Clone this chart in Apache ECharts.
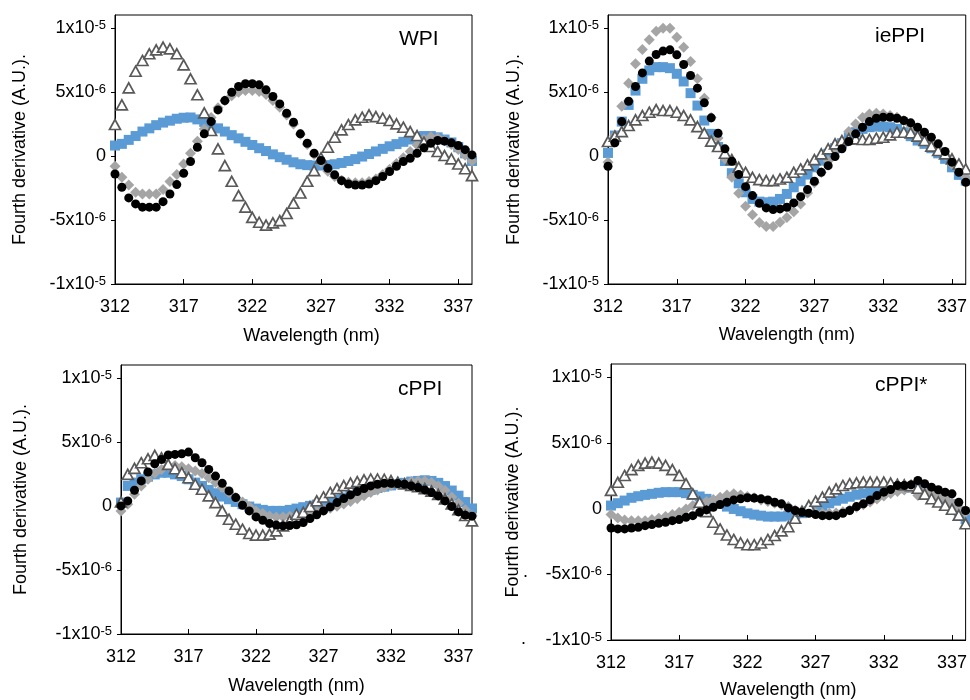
<!DOCTYPE html>
<html><head><meta charset="utf-8">
<script src="https://cdn.jsdelivr.net/npm/echarts@6/dist/echarts.min.js"></script>
<style>html,body{margin:0;padding:0;background:#fff}#c{width:970px;height:700px}</style>
</head><body><div id="c"></div>
<script>
// Wavelength (nm)
const wavelength = [312,312.5,313,313.5,314,314.5,315,315.5,316,316.5,317,317.5,318,318.5,319,319.5,320,320.5,321,321.5,322,322.5,323,323.5,324,324.5,325,325.5,326,326.5,327,327.5,328,328.5,329,329.5,330,330.5,331,331.5,332,332.5,333,333.5,334,334.5,335,335.5,336,336.5,337,337.5,338];
// Fourth derivative values in units of 1e-6 (A.U.)
const wpiBlue  = [0.81,0.94,1.25,1.55,1.9,2.15,2.4,2.6,2.75,2.9,2.98,3.0,2.85,2.65,2.42,2.15,1.9,1.62,1.37,1.1,0.85,0.6,0.38,0.12,-0.1,-0.3,-0.5,-0.65,-0.72,-0.75,-0.75,-0.72,-0.65,-0.55,-0.4,-0.25,-0.05,0.15,0.35,0.55,0.75,0.92,1.1,1.28,1.42,1.55,1.55,1.45,1.28,1.05,0.68,0.2,-0.4];
const wpiGray  = [-0.81,-1.67,-2.27,-2.84,-2.97,-2.97,-2.97,-2.63,-2.0,-1.46,-0.63,0.21,1.15,2.11,3.0,3.75,4.3,4.7,4.97,5.1,5.1,5.03,4.79,4.32,3.8,3.2,2.5,1.7,0.9,0.1,-0.5,-1.2,-1.6,-1.9,-2.05,-2.1,-2.1,-2.0,-1.8,-1.45,-1.05,-0.6,-0.15,0.35,0.85,1.3,1.5,1.42,1.2,0.9,0.5,0.05,-0.4];
const wpiBlack = [-1.41,-2.45,-3.28,-3.75,-4.0,-4.0,-4.0,-3.57,-2.97,-2.24,-1.35,-0.44,0.68,1.72,2.68,3.59,4.32,4.97,5.42,5.63,5.63,5.55,5.16,4.64,4.06,3.33,2.63,1.72,0.99,0.21,-0.36,-0.96,-1.48,-1.93,-2.19,-2.27,-2.27,-2.19,-1.93,-1.61,-1.22,-0.81,-0.44,-0.18,0.21,0.63,0.99,1.2,1.15,1.02,0.81,0.49,0.08];
const wpiTri   = [2.45,3.98,5.31,6.61,7.45,7.97,8.28,8.49,8.36,7.97,7.11,6.02,4.77,3.36,1.98,0.55,-0.76,-1.98,-3.1,-4.0,-4.8,-5.18,-5.4,-5.23,-5.05,-4.5,-3.7,-2.9,-1.98,-1.15,-0.16,0.68,1.46,2.03,2.45,2.81,3.02,3.2,3.07,2.94,2.76,2.5,2.24,1.9,1.59,1.07,0.73,0.34,0.03,-0.23,-0.63,-1.0,-1.54];

const ieBlue  = [0.23,1.59,2.68,3.98,5.1,6.02,6.67,6.93,6.93,6.85,6.41,5.81,4.9,3.93,2.76,1.72,0.7,-0.4,-1.35,-2.14,-2.84,-3.36,-3.57,-3.62,-3.57,-3.36,-2.97,-2.45,-1.98,-1.46,-0.89,-0.36,0.16,0.6,0.99,1.46,1.85,2.11,2.24,2.29,2.29,2.24,2.11,1.85,1.54,1.2,0.94,0.6,0.2,-0.23,-0.89,-1.48,-1.93];
const ieGray  = [-0.5,1.6,3.88,5.68,7.19,8.31,9.06,9.74,9.97,9.97,9.27,8.49,7.37,6.02,4.5,3.0,1.4,-0.23,-1.67,-2.92,-3.93,-4.6,-5.2,-5.52,-5.52,-5.18,-4.8,-4.35,-3.75,-2.9,-2.1,-1.3,-0.4,0.5,1.12,1.9,2.5,3.0,3.28,3.33,3.28,3.15,3.02,2.76,2.37,2.03,1.64,1.12,0.6,0.03,-0.63,-1.15,-1.67];
const ieBlack = [-0.81,1.02,2.68,4.27,5.42,6.48,7.4,7.92,8.18,8.28,7.89,7.14,6.28,5.29,4.14,2.97,1.77,0.55,-0.42,-1.45,-2.4,-3.1,-3.7,-4.06,-4.19,-4.14,-4.01,-3.67,-3.18,-2.63,-1.98,-1.28,-0.76,-0.05,0.55,1.12,1.72,2.24,2.68,2.94,3.02,3.02,2.94,2.76,2.58,2.24,1.85,1.46,0.94,0.34,-0.49,-1.28,-2.06];
const ieTri   = [1.12,1.54,1.9,2.37,2.81,3.15,3.41,3.62,3.54,3.54,3.41,3.15,2.81,2.29,1.77,1.15,0.73,0.21,-0.29,-0.89,-1.28,-1.67,-1.85,-1.93,-1.93,-1.8,-1.67,-1.28,-1.02,-0.7,-0.29,0.16,0.55,0.94,1.2,1.33,1.33,1.28,1.28,1.38,1.46,1.64,1.85,1.85,1.8,1.54,1.2,0.76,0.42,0.16,-0.23,-0.63,-1.02];

const cBlue  = [0.26,1.56,1.82,2.08,2.28,2.46,2.59,2.59,2.46,2.33,2.08,1.82,1.56,1.25,0.99,0.73,0.52,0.31,0.13,-0.05,-0.21,-0.31,-0.39,-0.39,-0.39,-0.31,-0.21,-0.1,0.0,0.1,0.2,0.35,0.5,0.65,0.8,0.95,1.1,1.25,1.4,1.5,1.6,1.7,1.8,1.9,1.95,2.0,1.95,1.8,1.55,1.2,0.8,0.3,-0.2];
const cGray  = [-0.39,0.13,0.91,1.56,2.08,2.54,2.85,3.11,3.16,3.06,2.9,2.72,2.52,2.2,1.82,1.43,1.04,0.65,0.31,-0.05,-0.39,-0.6,-0.78,-0.86,-0.86,-0.8,-0.72,-0.62,-0.5,-0.4,-0.3,-0.18,-0.02,0.15,0.35,0.55,0.8,1.05,1.25,1.45,1.6,1.7,1.8,1.9,1.95,1.95,1.82,1.55,1.2,0.7,0.2,-0.3,-0.75];
const cBlack = [0.0,0.39,1.22,1.95,2.65,3.29,3.63,3.97,4.02,4.07,4.2,3.76,3.37,2.85,2.33,1.76,1.17,0.65,0.05,-0.39,-0.86,-1.12,-1.37,-1.5,-1.56,-1.53,-1.47,-1.3,-0.99,-0.7,-0.39,-0.08,0.26,0.57,0.86,1.12,1.35,1.56,1.69,1.76,1.76,1.74,1.69,1.56,1.43,1.25,1.04,0.78,0.39,-0.05,-0.47,-0.72,-0.8];
const cTri   = [0.3,2.46,2.93,3.37,3.68,3.94,3.76,3.24,2.9,2.59,2.2,1.69,1.3,0.78,0.26,-0.39,-1.04,-1.43,-1.82,-2.15,-2.28,-2.28,-2.2,-1.95,-1.56,-1.17,-0.65,-0.5,-0.05,0.4,0.7,1.05,1.35,1.58,1.78,1.9,2.04,2.1,2.1,2.08,1.98,1.85,1.72,1.6,1.5,1.35,1.15,0.9,0.55,0.15,-0.3,-0.75,-1.17];

const sBlue  = [0.23,0.41,0.61,0.82,0.94,1.04,1.12,1.2,1.25,1.25,1.25,1.17,1.04,0.92,0.74,0.56,0.36,0.15,-0.03,-0.2,-0.36,-0.46,-0.54,-0.61,-0.61,-0.61,-0.54,-0.46,-0.35,-0.2,0.0,0.2,0.4,0.6,0.75,0.9,1.05,1.15,1.25,1.35,1.42,1.5,1.55,1.6,1.6,1.55,1.45,1.3,1.05,0.75,0.35,-0.2,-0.8];
const sGray  = [-0.46,-0.71,-0.87,-0.92,-0.92,-0.92,-0.84,-0.74,-0.61,-0.46,-0.28,-0.03,0.23,0.41,0.54,0.69,0.87,1.04,1.12,1.04,0.92,0.82,0.66,0.54,0.41,0.28,0.15,-0.1,-0.2,-0.28,-0.33,-0.36,-0.36,-0.33,-0.25,-0.1,0.1,0.3,0.5,0.72,0.95,1.15,1.3,1.42,1.55,1.0,1.3,1.2,0.9,0.75,0.45,0.1,-0.3];
const sBlack = [-1.48,-1.55,-1.55,-1.48,-1.43,-1.3,-1.22,-1.12,-1.04,-0.92,-0.84,-0.66,-0.54,-0.28,-0.1,0.1,0.31,0.48,0.66,0.74,0.82,0.8,0.74,0.66,0.48,0.36,0.05,-0.15,-0.28,-0.36,-0.46,-0.54,-0.54,-0.54,-0.36,-0.15,0.15,0.36,0.66,0.99,1.25,1.45,1.76,1.76,1.81,2.14,1.89,1.63,1.43,1.25,1.12,0.48,-0.15];
const sTri   = [1.38,2.0,2.52,2.96,3.29,3.46,3.54,3.46,3.29,2.96,2.52,1.89,1.12,0.48,-0.23,-1.04,-1.55,-2.01,-2.35,-2.6,-2.75,-2.75,-2.62,-2.35,-2.05,-1.7,-1.38,-0.74,-0.2,0.23,0.56,0.87,1.25,1.5,1.76,1.89,1.96,2.01,2.01,2.01,2.01,1.94,1.85,1.8,1.75,1.55,1.1,0.75,0.5,0.25,-0.05,-0.5,-1.15];

const panelTitles = ['WPI', 'iePPI', 'cPPI', 'cPPI*'];
const xTicks = [312, 317, 322, 327, 332, 337];
const yTicks = [-10, -5, 0, 5, 10];
const yTickText = ['-1x10{s|-5}', '-5x10{s|-6}', '0', '5x10{s|-6}', '1x10{s|-5}'];
const xName = 'Wavelength (nm)';
const yName = 'Fourth derivative (A.U.).';

const FONT = '"Liberation Sans", Arial, Helvetica, sans-serif';
const layout = [
  {grid:{left:115,top:15,width:357,height:269}, title:[399,28.5], xPad:[0,0,0,36], yGap:86, xGap:43},
  {grid:{left:608,top:15,width:358,height:269}, title:[875,26], xPad:0, yGap:85, xGap:42},
  {grid:{left:121,top:365,width:351,height:269}, title:[398,379], xPad:0, yGap:91, xGap:43},
  {grid:{left:611,top:364,width:355,height:277}, title:[875,374.5], xPad:0, yGap:89, xGap:41}
];
const panelData = [
  [wpiBlue, wpiGray, wpiTri, wpiBlack],
  [ieBlue, ieGray, ieTri, ieBlack],
  [cBlue, cGray, cTri, cBlack],
  [sBlue, sGray, sTri, sBlack]
];
const seriesStyle = [
  {symbol:'rect', symbolSize:10, itemStyle:{color:'#5B9BD5', opacity:1}},
  {symbol:'diamond', symbolSize:11, itemStyle:{color:'#A5A5A5', opacity:1}},
  {symbol:'triangle', symbolSize:[11,10], itemStyle:{color:'#ffffff', borderColor:'#595959', borderWidth:1.7, opacity:1}},
  {symbol:'circle', symbolSize:9, itemStyle:{color:'#000000', opacity:1}}
];

const grids = [], xAxes = [], yAxes = [], series = [], titles = [];
layout.forEach((L, p) => {
  grids.push(Object.assign({show:true, borderColor:'#000', borderWidth:1, backgroundColor:'transparent'}, L.grid));
  xAxes.push({
    type:'value', gridIndex:p, min:312, max:338,
    name:xName, nameLocation:'middle', nameGap:L.xGap,
    nameTextStyle:{fontSize:18, color:'#000', fontFamily:FONT, padding:L.xPad},
    axisLine:{onZero:false, lineStyle:{color:'#000', width:1}},
    axisTick:{inside:true, length:5, customValues:xTicks, lineStyle:{color:'#000'}},
    axisLabel:{customValues:xTicks, fontSize:18, color:'#000', fontFamily:FONT, margin:14},
    splitLine:{show:false}
  });
  yAxes.push({
    type:'value', gridIndex:p, min:-10, max:11,
    name:yName, nameLocation:'middle', nameGap:L.yGap,
    nameTextStyle:{fontSize:18, color:'#000', fontFamily:FONT},
    axisLine:{onZero:false, lineStyle:{color:'#000', width:1}},
    axisTick:{inside:false, length:4, customValues:yTicks, lineStyle:{color:'#000'}},
    axisLabel:{customValues:yTicks, fontSize:18, color:'#000', fontFamily:FONT, margin:9,
      formatter:(v) => { const k = yTicks.indexOf(Math.round(v)); return k >= 0 ? yTickText[k] : ''; },
      rich:{s:{fontSize:13, color:'#000', fontFamily:FONT, verticalAlign:'top', lineHeight:12}}},
    splitLine:{show:false}
  });
  titles.push({text:panelTitles[p], left:L.title[0], top:L.title[1], padding:0,
    textStyle:{fontSize:21, fontWeight:'normal', color:'#000', fontFamily:FONT}});
  panelData[p].forEach((arr, s) => {
    series.push(Object.assign({
      type:'scatter', xAxisIndex:p, yAxisIndex:p, silent:true, animation:false,
      data: wavelength.map((w, i) => [w, arr[i]])
    }, seriesStyle[s]));
  });
});

const chart = echarts.init(document.getElementById('c'), null, {renderer:'canvas'});
chart.setOption({
  animation:false,
  backgroundColor:'#fff',
  title:titles, grid:grids, xAxis:xAxes, yAxis:yAxes, series:series,
  graphic:[
    {type:'text', left:523, top:563, style:{text:'.', fontSize:18, fill:'#000', fontFamily:FONT}},
    {type:'text', left:521, top:630, style:{text:'.', fontSize:18, fill:'#000', fontFamily:FONT}}
  ]
});
</script></body></html>
